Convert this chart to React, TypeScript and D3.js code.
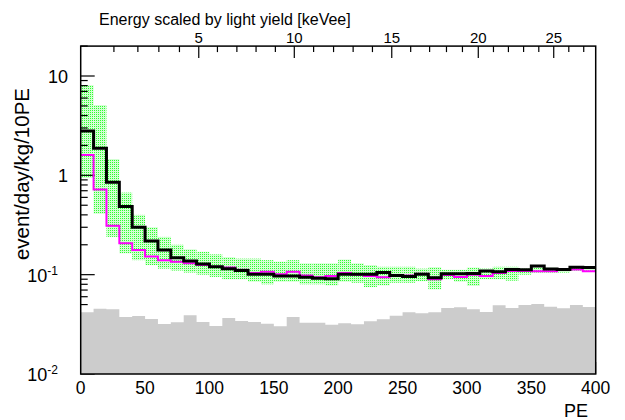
import React from "react";
import * as d3 from "d3";

// ---------- data ----------
const binLow = d3.range(0, 400, 10); // PE bin lower edges, width 10
const binWidth = 10;

const totalModel = [
  2.8, 1.87, 0.85, 0.485, 0.30, 0.218, 0.177, 0.148, 0.137, 0.128,
  0.12, 0.115, 0.11, 0.101, 0.101, 0.097, 0.097, 0.094, 0.092, 0.091,
  0.101, 0.101, 0.101, 0.105, 0.098, 0.096, 0.101, 0.093, 0.102, 0.102,
  0.103, 0.109, 0.107, 0.113, 0.112, 0.122, 0.114, 0.113, 0.119, 0.118,
];
const magentaModel = [
  1.6, 0.72, 0.31, 0.207, 0.177, 0.152, 0.14, 0.135, 0.13, 0.125,
  0.12, 0.118, 0.112, 0.104, 0.107, 0.101, 0.107, 0.098, 0.094, 0.097,
  0.104, 0.1, 0.097, 0.094, 0.099, 0.098, 0.102, 0.09, 0.099, 0.095,
  0.1, 0.097, 0.104, 0.109, 0.109, 0.108, 0.108, 0.112, 0.113, 0.108,
];
const bandLow = [
  0.94, 0.41, 0.24, 0.164, 0.14, 0.125, 0.115, 0.11, 0.105, 0.1,
  0.095, 0.09, 0.09, 0.085, 0.08, 0.085, 0.085, 0.08, 0.08, 0.078,
  0.085, 0.083, 0.075, 0.078, 0.083, 0.083, 0.086, 0.071, 0.09, 0.085,
  0.077, 0.09, 0.09, 0.087, 0.1, 0.105, 0.105, 0.105, 0.11, 0.11,
];
const bandHigh = [
  8.1, 5.1, 1.46, 0.67, 0.40, 0.30, 0.24, 0.2, 0.18, 0.17,
  0.16, 0.15, 0.145, 0.145, 0.14, 0.135, 0.14, 0.13, 0.13, 0.13,
  0.142, 0.13, 0.125, 0.12, 0.12, 0.12, 0.115, 0.119, 0.112, 0.112,
  0.118, 0.115, 0.12, 0.12, 0.115, 0.118, 0.118, 0.115, 0.12, 0.12,
];
const grayBackground = [
  0.0418, 0.0455, 0.0448, 0.0375, 0.0384, 0.0358, 0.0319, 0.0331, 0.039, 0.0334,
  0.0304, 0.0366, 0.0342, 0.0334, 0.0321, 0.0302, 0.0375, 0.0329, 0.0329, 0.0314,
  0.0324, 0.0316, 0.034, 0.0356, 0.0386, 0.0418, 0.0408, 0.0418, 0.0462, 0.0469,
  0.0448, 0.0421, 0.0492, 0.0462, 0.0495, 0.0507, 0.0476, 0.0459, 0.0495, 0.0473,
];

const xTicks = [0, 50, 100, 150, 200, 250, 300, 350, 400];
const yMajor = [0.01, 0.1, 1, 10];
const yMajorLabel = [["10", "-2"], ["10", "-1"], ["1", ""], ["10", ""]];

// Top axis: energy (keVee) tick values and their PE positions
const keVTicks = [
  0, 1, 2, 3, 4, 5, 6, 7, 8, 9, 10, 11, 12, 13,
  14, 15, 16, 17, 18, 19, 20, 21, 22, 23, 24, 25, 26, 27,
];
const keVTickPE = [
  0, 25.8, 44.4, 60.7, 76.7, 91.7, 106.2, 121.3, 136.2, 151.2, 165.9, 180.9, 196.4, 211.6,
  226.6, 241.6, 256.3, 271.0, 284.1, 296.5, 308.8, 320.6, 332.2, 344.0, 355.8, 367.4, 379.1, 390.7,
];

const FONT = "'Liberation Sans', Arial, Helvetica, sans-serif";

export default function App() {
  const W = 625, H = 420;
  const x = d3.scaleLinear().domain([0, 400]).range([80.7, 595.7]);
  const y = d3.scaleLog().domain([0.01, 20]).range([374, 46.1]);

  const stepPts = (vals: number[]) => {
    const pts: [number, number][] = [];
    vals.forEach((v, i) => {
      pts.push([binLow[i], v]);
      pts.push([binLow[i] + binWidth, v]);
    });
    return pts;
  };

  const line = d3
    .line<[number, number]>()
    .x((d) => x(d[0]))
    .y((d) => y(d[1]));
  const area = d3
    .area<[number, number]>()
    .x((d) => x(d[0]))
    .y0(y(0.01))
    .y1((d) => y(d[1]));

  const yMinor: number[] = [];
  [0.01, 0.1, 1, 10].forEach((dec) => {
    for (let k = 2; k <= 9; k++) {
      const v = dec * k;
      if (v <= 20) yMinor.push(v);
    }
  });

  return (
    <svg
      width={W}
      height={H}
      style={{ position: "absolute", left: 0, top: 0, background: "#fff" }}
      fontFamily={FONT}
    >
      <defs>
        <pattern id="gdots" width="2" height="2" patternUnits="userSpaceOnUse">
          <rect x="0" y="0" width="2" height="2" fill="#d2ffd2" />
          <rect x="0" y="0" width="1" height="1" fill="#30ff30" />
        </pattern>
      </defs>
      <rect x={0} y={0} width={W} height={H} fill="#fff" />

      {xTicks.map((t) => (
        <line key={"xt" + t} x1={x(t)} x2={x(t)} y1={374} y2={362} stroke="#000" />
      ))}

      {/* green uncertainty band */}
      {binLow.map((lo, i) => (
        <rect
          key={"b" + lo}
          x={x(lo)}
          width={x(lo + binWidth) - x(lo)}
          y={y(bandHigh[i])}
          height={y(bandLow[i]) - y(bandHigh[i])}
          fill="url(#gdots)"
        />
      ))}

      {/* left axis ticks */}
      {yMajor.map((t) => (
        <line key={"ym" + t} x1={x(0)} x2={x(0) + 14} y1={y(t)} y2={y(t)} stroke="#000" strokeWidth={1.2} />
      ))}
      {yMinor.map((t) => (
        <line key={"yn" + t} x1={x(0)} x2={x(0) + 7} y1={y(t)} y2={y(t)} stroke="#000" strokeWidth={1.2} />
      ))}

      {/* gray background histogram */}
      <path d={area(stepPts(grayBackground)) || ""} fill="#cccccc" stroke="none" />

      {/* magenta histogram */}
      <path d={line(stepPts(magentaModel)) || ""} fill="none" stroke="#ff00ff" strokeWidth={2} />
      {/* black histogram */}
      <path d={line(stepPts(totalModel)) || ""} fill="none" stroke="#000" strokeWidth={3} />

      {/* top axis ticks */}
      {keVTicks.map((k, i) =>
        k === 0 ? null : (
          <line
            key={"kt" + k}
            x1={x(keVTickPE[i])}
            x2={x(keVTickPE[i])}
            y1={46.1}
            y2={46.1 + (k % 5 === 0 ? 12 : 6)}
            stroke="#000"
            strokeWidth={1.2}
          />
        )
      )}
      {keVTicks.map((k, i) =>
        k !== 0 && k % 5 === 0 ? (
          <text key={"kl" + k} x={x(keVTickPE[i])} y={43} fontSize={15} textAnchor="middle">
            {k}
          </text>
        ) : null
      )}
      <text x={99} y={25} fontSize={16}>
        Energy scaled by light yield [keVee]
      </text>

      {/* frame */}
      <rect
        x={x(0)}
        y={y(20)}
        width={x(400) - x(0)}
        height={y(0.01) - y(20)}
        fill="none"
        stroke="#000"
        strokeWidth={1.5}
      />

      {/* bottom labels */}
      {xTicks.map((t) => (
        <text key={"xl" + t} x={x(t)} y={393.5} fontSize={17.5} textAnchor="middle">
          {t}
        </text>
      ))}
      <text x={588} y={417} fontSize={18} textAnchor="end">
        PE
      </text>

      {/* left labels */}
      {yMajor.map((t, i) => {
        const [base, sup] = yMajorLabel[i];
        return (
          <text key={"yl" + t} x={sup ? 58 : 68} y={y(t) + 7} fontSize={18} textAnchor="end">
            {base}
            {sup ? (
              <tspan fontSize={12} dy={-7}>
                {sup}
              </tspan>
            ) : null}
          </text>
        );
      })}
      <text transform={`translate(29,88) rotate(-90)`} fontSize={20.5} textAnchor="end">
        event/day/kg/10PE
      </text>
    </svg>
  );
}
